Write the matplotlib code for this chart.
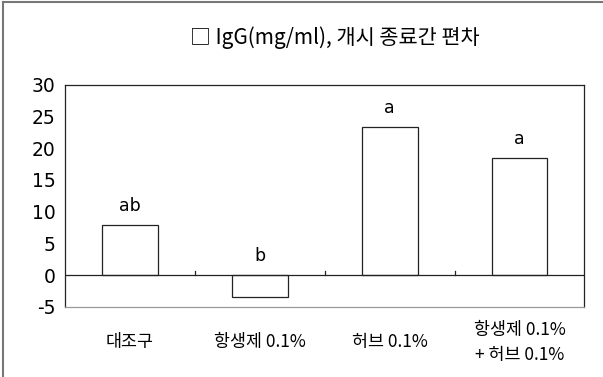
import matplotlib.pyplot as plt
from matplotlib.lines import Line2D

plt.rcParams['font.family'] = ['Noto Sans CJK KR', 'DejaVu Sans']

groups = ['대조구', '항생제 0.1%', '허브 0.1%', '항생제 0.1%\n+ 허브 0.1%']
igg_diff = [7.9, -3.5, 23.4, 18.5]
letters = ['ab', 'b', 'a', 'a']
yticks = [-5, 0, 5, 10, 15, 20, 25, 30]

fig = plt.figure(figsize=(6.03, 3.77), dpi=100)
ax = fig.add_axes([0.108, 0.186, 0.861, 0.589])

x = range(len(groups))
ax.bar(x, igg_diff, width=0.43, color='white', edgecolor='#222222', linewidth=0.9)
ax.axhline(0, color='#222222', linewidth=0.9)

for i, (v, s) in enumerate(zip(igg_diff, letters)):
    ax.text(i, max(v, 0) + 1.6, s, ha='center', va='bottom', fontsize=12.5,
            family=['DejaVu Sans'])

# small upward marks on the zero line between groups
for b in [0.5, 1.5, 2.5]:
    ax.plot([b, b], [0, 0.6], color='#222222', linewidth=0.9)

ax.set_xlim(-0.5, 3.5)
ax.set_ylim(-5, 30)
ax.set_yticks(yticks)
ax.set_yticklabels([str(t) for t in yticks], family=['DejaVu Sans'])
ax.tick_params(axis='y', length=0, pad=7, labelsize=13.5)
ax.set_xticks([])
for sp in ax.spines.values():
    sp.set_color('#222222')
    sp.set_linewidth(0.9)
ax.spines['bottom'].set_color('#999999')

for i, g in enumerate(groups):
    ax.text(i, -10.6, g, ha='center', va='center', fontsize=12.5,
            linespacing=1.55, clip_on=False)

fig.text(0.556, 0.9, '□ IgG(mg/ml), 개시 종료간 편차', ha='center', va='center',
         fontsize=15)

# page border lines
fig.add_artist(Line2D([0.005, 1], [0.995, 0.995], color='#777777', linewidth=1.5))
fig.add_artist(Line2D([0.005, 0.005], [0, 0.995], color='#777777', linewidth=1.5))

fig.savefig('out.png', dpi=100)
